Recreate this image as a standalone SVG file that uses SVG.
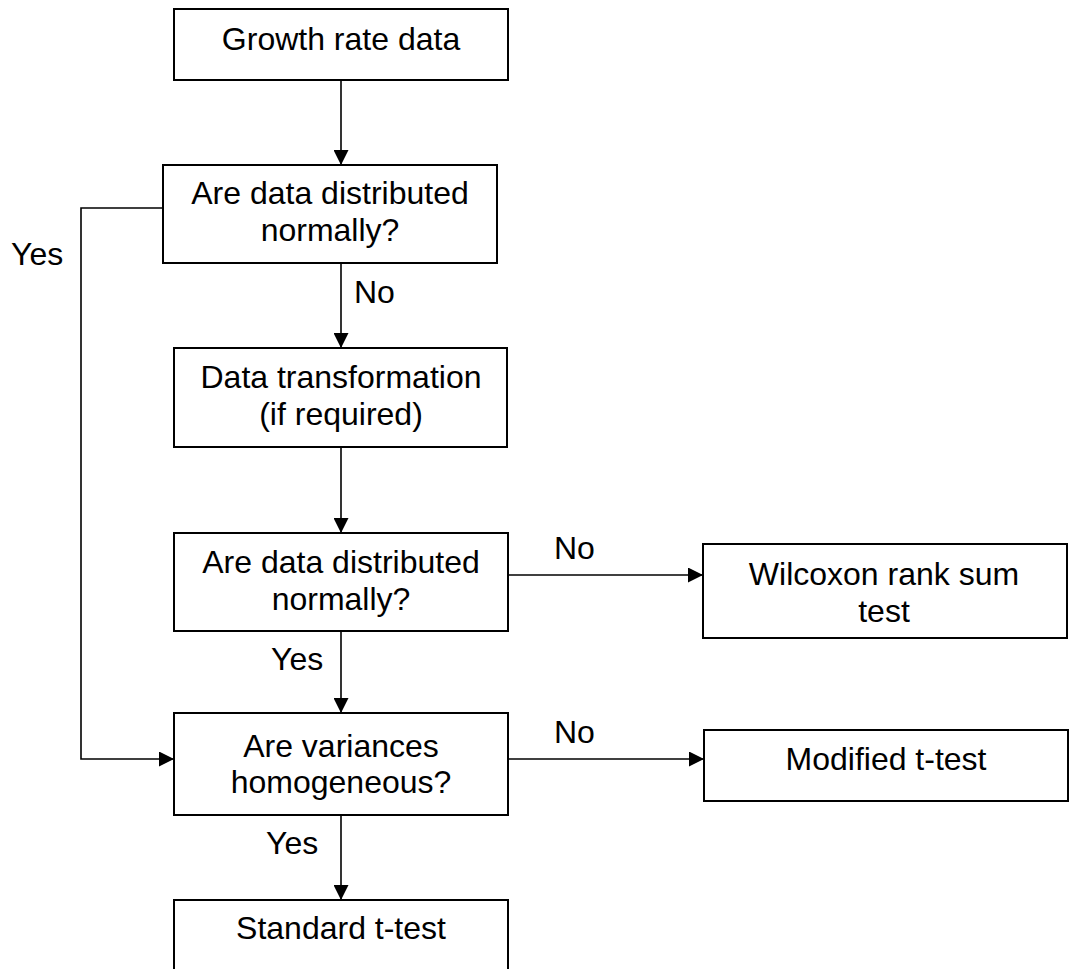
<svg xmlns="http://www.w3.org/2000/svg" width="1077" height="969" viewBox="0 0 1077 969">
<style>
.box{fill:#fff;stroke:#000;stroke-width:2}
.t{font-family:"Liberation Sans",Arial,sans-serif;font-size:32px;fill:#000;text-anchor:middle}
.l{font-family:"Liberation Sans",Arial,sans-serif;font-size:32px;fill:#000}
.c{fill:none;stroke:#000;stroke-width:1.6}
</style>
<defs>
<marker id="ah" markerWidth="15" markerHeight="15" refX="15" refY="7.5" orient="auto" markerUnits="userSpaceOnUse">
<path d="M0,0 L15,7.5 L0,15 Z" fill="#000"/>
</marker>
</defs>
<rect width="1077" height="969" fill="#fff"/>
<g id="connectors">
<line class="c" x1="341" y1="80" x2="341" y2="165" marker-end="url(#ah)"/>
<line class="c" x1="341" y1="263" x2="341" y2="348" marker-end="url(#ah)"/>
<line class="c" x1="341" y1="447" x2="341" y2="533" marker-end="url(#ah)"/>
<line class="c" x1="508" y1="575" x2="703" y2="575" marker-end="url(#ah)"/>
<line class="c" x1="341" y1="631" x2="341" y2="713" marker-end="url(#ah)"/>
<polyline class="c" points="163,208 81,208 81,759 174,759" marker-end="url(#ah)"/>
<line class="c" x1="508" y1="759" x2="704" y2="759" marker-end="url(#ah)"/>
<line class="c" x1="341" y1="815" x2="341" y2="900" marker-end="url(#ah)"/>
<text class="l" x="354" y="303">No</text>
<text class="l" x="11" y="265">Yes</text>
<text class="l" x="554" y="559">No</text>
<text class="l" x="271" y="670">Yes</text>
<text class="l" x="554" y="743">No</text>
<text class="l" x="266" y="854">Yes</text>
</g>
<g id="growth">
<rect class="box" x="174" y="9" width="334" height="71"/>
<text class="t" x="341" y="50">Growth rate data</text>
</g>
<g id="normal1">
<rect class="box" x="163" y="165" width="334" height="98"/>
<text class="t" x="330" y="204">Are data distributed</text>
<text class="t" x="330" y="241">normally?</text>
</g>
<g id="transform">
<rect class="box" x="174" y="348" width="333" height="99"/>
<text class="t" x="341" y="388">Data transformation</text>
<text class="t" x="341" y="425">(if required)</text>
</g>
<g id="normal2">
<rect class="box" x="174" y="533" width="334" height="98"/>
<text class="t" x="341" y="573">Are data distributed</text>
<text class="t" x="341" y="610">normally?</text>
</g>
<g id="wilcoxon">
<rect class="box" x="703" y="544" width="364" height="94"/>
<text class="t" x="884" y="585">Wilcoxon rank sum</text>
<text class="t" x="884" y="622">test</text>
</g>
<g id="variances">
<rect class="box" x="174" y="713" width="334" height="102"/>
<text class="t" x="341" y="757">Are variances</text>
<text class="t" x="341" y="793">homogeneous?</text>
</g>
<g id="modified">
<rect class="box" x="704" y="730" width="364" height="71"/>
<text class="t" x="886" y="770">Modified t-test</text>
</g>
<g id="standard">
<rect class="box" x="174" y="900" width="334" height="80"/>
<text class="t" x="341" y="939">Standard t-test</text>
</g>
</svg>
